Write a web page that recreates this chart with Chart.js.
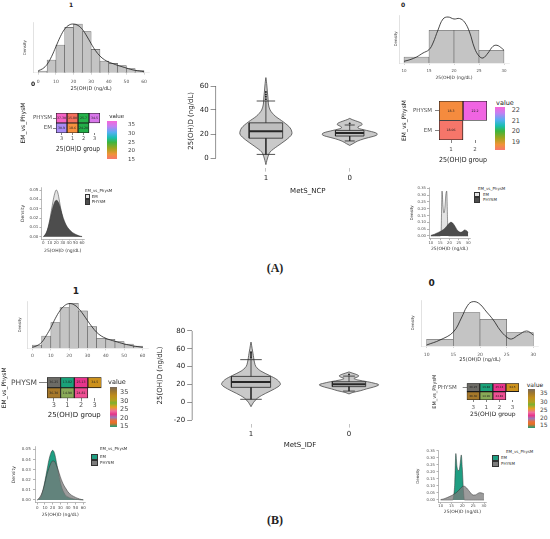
<!DOCTYPE html>
<html><head><meta charset="utf-8">
<script src="https://cdn.jsdelivr.net/npm/chart.js@4.4.0/dist/chart.umd.min.js"></script>
<style>
body{margin:0;background:#fff;}
#fig{position:relative;width:550px;height:539px;overflow:hidden;background:#fff;font-family:"DejaVu Sans",sans-serif;color:#222;}
.abs{position:absolute;white-space:nowrap;line-height:1;}
</style></head>
<body><div id="fig"></div>
<script>
// ================= DATA =================
const histCenters60 = [2.5,7.5,12.5,17.5,22.5,27.5,32.5,37.5,42.5,47.5,52.5,57.5];
const grid60 = [0,2.5,5,7.5,10,12.5,15,17.5,20,22.5,25,27.5,30,32.5,35,37.5,40,42.5,45,47.5,50,52.5,55,57.5,60];
const histCenters30 = [12.5,17.5,22.5,27.5];
const grid30 = [10,11,12,13,14,15,15.5,16,16.5,17,17.5,18,18.5,19,19.5,20,20.5,21,22,23,24,25,26,27,28,29,30];
const ticks60 = [0,10,20,30,40,50,60];
const ticks30 = [10,15,20,25,30];
const densTicks1 = [0,0.01,0.02,0.03,0.04,0.05];
const densTicks0 = [0,0.05,0.10,0.15,0.20,0.25,0.30,0.35];

// (A) MetS_NCP — group 1 histogram + kde (relative heights)
const histA1 = [5,38,83,136,146,123,70,35,28,21,12,6];
const kdeA1  = [6,12,25,48,78,108,131,143,146,142,130,110,87,66,50,39,32,27,22,18,14,10,7,5,3];
// (A) group 0 histogram + kde
const histA0 = [6,32.7,32.7,12.7];
const kdeXA0 = [10,11.2,12.5,13.8,15,15.8,16.8,17.8,18.8,20,21.1,22.1,23.1,24.1,25,25.8,26.8,27.8,28.6,29.5,30];
const kdeA0  = [1.7,3.3,6,10,13.3,20,33,44,46,44,44.5,41,31,15,7,5,10,16.7,17.7,15,12.7];
// (B) MetS_IDF — group 1
const histB1 = [10,37,77,122,135,112,65,30,27,20,13,7];
const kdeB1  = [3,8,18,38,62,90,113,128,134,131,120,103,83,64,48,37,30,25,21,17,13,10,7,5,3];
// (B) group 0
const histB0 = [6.7,33.3,26.7,13.3];
const kdeXB0 = [10,12.5,15,16.6,17.5,18.4,19.7,21.25,22.5,23.75,25,25.9,27.2,28.75,30];
const kdeB0  = [1,6,14,29,39,44,43,34,26,16,9,7,11,15,11];

// densities by EM_vs_PhysM
const densA1_EM = [0,0.001,0.004,0.010,0.018,0.028,0.038,0.046,0.050,0.047,0.038,0.028,0.019,0.012,0.008,0.005,0.003,0.002,0.0015,0.001,0.0007,0.0005,0.0003,0.0001,0];
const densA1_PH = [0,0.002,0.005,0.010,0.017,0.025,0.032,0.037,0.039,0.038,0.034,0.028,0.022,0.017,0.013,0.010,0.008,0.006,0.0045,0.0035,0.0025,0.0017,0.001,0.0005,0.0002];
const densA0_EM = [0,0,0,0,0,0,0.03,0.33,0.22,0.17,0.2,0.3,0.33,0.1,0,0,0,0,0,0,0,0,0,0,0,0,0];
const densA0_PH = [0.004,0.008,0.013,0.02,0.026,0.032,0.036,0.04,0.045,0.05,0.056,0.064,0.072,0.08,0.088,0.095,0.1,0.1,0.09,0.07,0.046,0.032,0.027,0.032,0.044,0.04,0.027];
const densB1_EM = [0,0.001,0.004,0.010,0.019,0.029,0.039,0.046,0.049,0.046,0.037,0.027,0.018,0.011,0.007,0.004,0.003,0.002,0.0015,0.001,0.0007,0.0005,0.0003,0.0001,0];
const densB1_PH = [0,0.002,0.005,0.010,0.017,0.025,0.031,0.036,0.0385,0.038,0.034,0.029,0.023,0.018,0.014,0.011,0.008,0.006,0.0045,0.0035,0.0025,0.0017,0.001,0.0005,0.0002];
const densB0_EM = [0,0,0,0,0,0,0,0.03,0.12,0.33,0.24,0.21,0.21,0.26,0.32,0.22,0.07,0,0,0,0,0,0,0,0,0,0];
const densB0_PH = [0.003,0.006,0.011,0.017,0.024,0.031,0.035,0.04,0.045,0.05,0.056,0.063,0.071,0.08,0.088,0.095,0.098,0.097,0.085,0.066,0.047,0.035,0.036,0.045,0.052,0.05,0.043];

// violins: value grid and half-width (x units) per group
const vioCats = ['1','0'];
const vioYA1 = [-5.5,-2,0,5,10,15,20,25,30,35,40,45,50,55,60,64,67];
const vioWA1 = [0,0.012,0.02,0.05,0.14,0.24,0.31,0.29,0.21,0.11,0.05,0.03,0.025,0.018,0.012,0.006,0];
const vioYA0 = [10.5,12,14,16,18,19,20,21,22,23,24,25,26,27,28,29,30,31,32,33];
const vioWA0 = [0,0.04,0.09,0.17,0.28,0.32,0.33,0.31,0.26,0.2,0.14,0.1,0.1,0.13,0.15,0.14,0.11,0.07,0.03,0];
const vioYB1 = [-5,-2,0,5,10,15,20,25,30,35,40,45,50,55,60,64,67.5];
const vioWB1 = [0,0.015,0.027,0.07,0.15,0.24,0.3,0.27,0.19,0.1,0.05,0.035,0.027,0.02,0.012,0.006,0];
const vioYB0 = [9.3,11,13,15,17,19,20,21,23,25,26.7,28,29.5,31,32.5,34];
const vioWB0 = [0,0.04,0.12,0.18,0.25,0.3,0.3,0.27,0.19,0.09,0.05,0.08,0.1,0.08,0.04,0];
const boxQ1A = [16.5,18.3], boxMedA = [22.3,20.8], boxQ3A = [29.3,23], boxLoA = [3,14.2], boxHiA = [47.5,27.5];
const outA = [[49,51,53,55],[28.8]];
const boxQ1B = [16.7,17.5], boxMedB = [22.6,20.2], boxQ3B = [29,23], boxLoB = [3.3,12.5], boxHiB = [47.8,29.3];
const outB = [[50,52,54,56],[31]];

// heatmaps
const hmRows = ['PHYSM','EM'];
const hmA1Groups = ['3','1','2','3'];
const hmA1Physm = ['37.30','15.80','25.7','34.5'];
const hmA1Em = ['30.9','18.6','24.20'];
const hmA1PhysmCol = ['#f564c6','#f4705c','#27b24b','#d876ea'];
const hmA1EmCol = ['#a98cf5','#f7913e','#22ae48'];
const hmA0Groups = ['1','2'];
const hmA0Physm = ['18.3','22.2'];
const hmA0Em = ['18.06'];
const hmA0PhysmCol = ['#f58b3e','#f064e2'];
const hmA0EmCol = ['#f6766a'];
const hmBGroups = ['3','1','2','3'];
const hmBPhysm = ['36.25','13.82','25.13','34.5'];
const hmBEm = ['36.30','14.90','24.81'];
const hmBPhysmCol = ['#6c6b66','#19a279','#e7358b','#cc911c'];
const hmBEmCol = ['#a6782a','#88a957','#ee4f93'];
const legA1Ticks = ['35','30','25','20','15'];
const legA0Ticks = ['22','21','20','19'];
const legBTicks = ['35','30','25','20','15'];

// ================= HELPERS =================
Chart.defaults.font.family = '"DejaVu Sans", sans-serif';
Chart.defaults.color = '#4d4d4d';
Chart.defaults.animation = false;
Chart.defaults.events = [];
Chart.defaults.plugins.legend.display = false;
Chart.defaults.plugins.tooltip.enabled = false;

const fig = document.getElementById('fig');
const tickList = vals => s => { s.ticks = vals.map(v => ({value: v})); };

function mk(r, cfg) {
  const L = Math.round(r.x0 - r.yW), Tp = Math.round(r.y0 - r.pt);
  const R = Math.round(r.x1 + r.pr), B = Math.round(r.y1 + r.xH);
  const yW = r.x0 - L, pt = r.y0 - Tp, pr = R - r.x1, xH = B - r.y1;
  const box = document.createElement('div');
  box.style.cssText = `position:absolute;left:${L}px;top:${Tp}px;width:${R-L}px;height:${B-Tp}px;`;
  const c = document.createElement('canvas');
  box.appendChild(c); fig.appendChild(box);
  cfg.options.responsive = true;
  cfg.options.maintainAspectRatio = false;
  cfg.options.layout = {padding: {left: 0, top: pt, right: pr, bottom: 0}};
  cfg.options.scales.x.afterFit = a => { a.height = xH; };
  cfg.options.scales.y.afterFit = a => { a.width = yW; };
  return new Chart(c, cfg);
}

function T(s, x, y, size, o = {}) {
  const d = document.createElement('div');
  d.className = 'abs'; d.textContent = s;
  d.style.fontSize = size + 'px'; d.style.left = x + 'px'; d.style.top = y + 'px';
  d.style.transform = o.anchor === 'l' ? 'translate(0,-50%)' : 'translate(-50%,-50%)';
  if (o.bold) d.style.fontWeight = 'bold';
  if (o.family) d.style.fontFamily = o.family;
  d.style.color = o.color || '#222';
  fig.appendChild(d);
}
function G(x, y, w, h, stops) {
  const d = document.createElement('div');
  d.style.cssText = `position:absolute;left:${x}px;top:${y}px;width:${w}px;height:${h}px;background:linear-gradient(to bottom, ${stops.join(',')});`;
  fig.appendChild(d);
}
function K(x, y, w, h, col) {
  const d = document.createElement('div');
  d.style.cssText = `position:absolute;left:${x}px;top:${y}px;width:${w}px;height:${h}px;background:${col};box-sizing:border-box;border:0.5px solid #333;`;
  fig.appendChild(d);
}

const rAxis = {
  id: 'rAxis',
  afterDraw(chart, args, opts) {
    if (!opts || !opts.on) return;
    const y = chart.scales.y, t = y.ticks, ctx = chart.ctx;
    ctx.save(); ctx.strokeStyle = '#666'; ctx.lineWidth = 0.7;
    ctx.beginPath();
    ctx.moveTo(y.right, y.getPixelForValue(t[0].value));
    ctx.lineTo(y.right, y.getPixelForValue(t[t.length - 1].value));
    ctx.stroke(); ctx.restore();
  }
};
const cellText = {
  id: 'cellText',
  afterDatasetsDraw(chart, args, opts) {
    const ctx = chart.ctx;
    ctx.save();
    ctx.font = `${opts.size}px "DejaVu Sans"`; ctx.fillStyle = '#222';
    ctx.textAlign = 'center'; ctx.textBaseline = 'middle';
    chart.data.datasets.forEach((ds, di) => {
      chart.getDatasetMeta(di).data.forEach((el, j) => {
        const t = ds.cellLabels[j];
        if (t == null) return;
        ctx.fillText(t, (el.x + el.base) / 2, el.y);
      });
    });
    ctx.restore();
  }
};

function hist(r, centers, vals, kx, ky, xr, xt, ymax, f) {
  return mk(r, {
    type: 'bar',
    data: {datasets: [
      {type: 'line', data: kx.map((x, i) => ({x, y: ky[i]})), borderColor: '#1e1e1e', borderWidth: 0.8, pointRadius: 0, tension: 0.4, fill: false, order: 1},
      {type: 'bar', data: centers.map((x, i) => ({x, y: vals[i]})), backgroundColor: '#c4c4c4', borderColor: '#5c5c5c', borderWidth: 0.6, barPercentage: 1, categoryPercentage: 1, order: 2}
    ]},
    options: {scales: {
      x: {type: 'linear', offset: false, min: xr[0], max: xr[1], afterBuildTicks: tickList(xt),
          ticks: {font: {size: f.tick}, padding: f.tp, maxRotation: 0, minRotation: 0, autoSkip: false, color: '#555'},
          grid: {drawOnChartArea: false, tickLength: 2, color: '#aaa', offset: false, lineWidth: 0.5},
          border: {display: true, color: '#ddd', width: 0.5},
          title: {display: !!f.xtitle, text: f.xtitle || '', font: {size: f.xts || 5}, padding: 0, color: '#333'}},
      y: {min: 0, max: ymax, ticks: {display: false}, grid: {display: false},
          border: {display: true, color: '#cfcfcf', width: 0.6},
          title: {display: true, text: 'Density', font: {size: 4}, padding: {top: f.ytp || 0, bottom: 0}, color: '#444'}}
    }}
  });
}

function dens(r, gx, em, ph, xr, xt, yr, yt, emFill, phFill, f) {
  const line = (vals, fillCol, order) => ({data: gx.map((x, i) => ({x, y: vals[i]})), fill: 'origin', backgroundColor: fillCol,
    borderColor: '#303030', borderWidth: 0.5, pointRadius: 0, cubicInterpolationMode: 'monotone', order});
  return mk(r, {
    type: 'line',
    data: {datasets: [line(ph, phFill, 1), line(em, emFill, 2)]},
    options: {scales: {
      x: {type: 'linear', min: xr[0], max: xr[1], afterBuildTicks: tickList(xt),
          ticks: {font: {size: f.tick}, padding: f.xtp, maxRotation: 0, minRotation: 0, autoSkip: false},
          grid: {drawOnChartArea: false, tickLength: f.xtl, color: '#666', lineWidth: 0.5},
          border: {display: true, color: '#777', width: 0.5},
          title: {display: true, text: '25(OH)D (ng/dL)', font: {size: 4.5}, padding: 0, color: '#333'}},
      y: {min: yr[0], max: yr[1], afterBuildTicks: tickList(yt),
          ticks: {font: {size: f.tick}, padding: f.ytp, autoSkip: false, callback: v => v.toFixed(2)},
          grid: {drawOnChartArea: false, tickLength: 2, color: '#666', lineWidth: 0.5},
          border: {display: true, color: '#777', width: 0.5},
          title: {display: true, text: 'Density', font: {size: f.yts}, padding: 0, color: '#333'}}
    }}
  });
}

function vioSets(pos, ys, ws, q1, med, q3, lo, hi, bw, cw, outs) {
  const shape = ys.map((y, i) => ({x: pos + ws[i], y}))
    .concat(ys.map((y, i) => ({x: pos - ws[i], y})).reverse());
  const L = (pts, w, extra) => Object.assign({data: pts, borderColor: '#262626', borderWidth: w, pointRadius: 0, fill: false, tension: 0, order: 1}, extra || {});
  return [
    L(shape, 0.8, {fill: 'shape', backgroundColor: '#c9c9c9', borderColor: '#4a4a4a', tension: 0.3, order: 4}),
    L([{x: pos - bw, y: q1}, {x: pos + bw, y: q1}, {x: pos + bw, y: q3}, {x: pos - bw, y: q3}, {x: pos - bw, y: q1}], 0.8,
      {fill: 'shape', backgroundColor: 'rgba(160,160,160,0.25)', order: 3}),
    L([{x: pos, y: q3}, {x: pos, y: hi}], 0.8),
    L([{x: pos, y: q1}, {x: pos, y: lo}], 0.8),
    L([{x: pos - cw, y: hi}, {x: pos + cw, y: hi}], 0.8),
    L([{x: pos - cw, y: lo}, {x: pos + cw, y: lo}], 0.8),
    L([{x: pos - bw, y: med}, {x: pos + bw, y: med}], 2),
    {data: outs.map(y => ({x: pos, y})), showLine: false, pointRadius: 1, pointBackgroundColor: '#222', pointBorderWidth: 0, order: 0}
  ];
}

function violin(r, vY, vW, q1, med, q3, lo, hi, outs, yr, yt, xtitle, xtp) {
  const ds = [];
  const bw = [0.2, 0.17], cw = [0.11, 0.06];
  vioCats.forEach((c, g) => ds.push(...vioSets(g + 1, vY[g], vW[g], q1[g], med[g], q3[g], lo[g], hi[g], bw[g], cw[g], outs[g])));
  return mk(r, {
    type: 'line',
    data: {datasets: ds},
    options: {scales: {
      x: {type: 'linear', min: 0.4, max: 2.6, afterBuildTicks: tickList([1, 2]),
          ticks: {callback: (v, i) => vioCats[i], font: {size: 7}, padding: xtp, color: '#222', maxRotation: 0, autoSkip: false},
          grid: {drawOnChartArea: false, tickLength: 4, color: '#999', lineWidth: 0.6}, border: {display: false},
          title: {display: true, text: xtitle, font: {size: 7}, padding: 0, color: '#222'}},
      y: {min: yr[0], max: yr[1], afterBuildTicks: tickList(yt),
          ticks: {font: {size: 7}, padding: 2, color: '#222', autoSkip: false},
          grid: {drawOnChartArea: false, tickLength: 5, color: '#666', lineWidth: 0.7}, border: {display: false},
          title: {display: true, text: '25(OH)D (ng/dL)', font: {size: 7}, padding: 0, color: '#222'}}
    }, plugins: {rAxis: {on: true}}},
    plugins: [rAxis]
  });
}

function heat(r, groups, pv, ev, pc, ec, f) {
  const n = groups.length;
  const datasets = groups.map((g, i) => ({
    data: [[i, i + 1], i < ev.length ? [i, i + 1] : null],
    backgroundColor: [pc[i], i < ec.length ? ec[i] : 'rgba(0,0,0,0)'],
    borderColor: '#1a1a1a', borderWidth: 0.9, borderSkipped: false,
    barPercentage: 1, categoryPercentage: 1, grouped: false,
    cellLabels: [pv[i], i < ev.length ? ev[i] : null]
  }));
  return mk(r, {
    type: 'bar',
    data: {labels: hmRows, datasets},
    options: {indexAxis: 'y', scales: {
      x: {type: 'linear', min: 0, max: n, afterBuildTicks: tickList(groups.map((g, i) => i + 0.5)),
          ticks: {callback: (v, i) => groups[i], font: {size: f.xt}, padding: f.xPad, color: '#4d4d4d', maxRotation: 0, autoSkip: false},
          grid: {drawOnChartArea: false, tickLength: f.xTL, color: '#333', lineWidth: 0.6}, border: {display: false},
          title: {display: true, text: '25(OH)D group', font: {size: f.xTitle}, padding: 0, color: '#222'}},
      y: {type: 'category', offset: true,
          ticks: {font: {size: f.yt}, padding: f.yPad, color: '#4d4d4d'},
          grid: {drawOnChartArea: false, tickLength: f.yTL, color: '#333', lineWidth: 0.6, offset: false}, border: {display: false},
          title: {display: true, text: 'EM_vs_PhysM', font: {size: f.yTitle}, padding: 0, color: '#222'}}
    }, plugins: {cellText: {size: f.cell}}},
    plugins: [cellText]
  });
}

// ================= PANEL A =================
hist({x0:33,y0:22.7,x1:149.3,y1:72.7,yW:11,xH:19.6,pt:4,pr:8}, histCenters60, histA1, grid60, kdeA1, [-3,63], ticks60, 150,
     {tick:4.5, tp:4, xtitle:'25(OH)D (ng/dL)', xts:5, ytp:0.6});
hist({x0:399,y0:15,x1:509,y1:63,yW:5,xH:18,pt:4,pr:6}, histCenters30, histA0, kdeXA0, kdeA0, [9,31], ticks30, 48,
     {tick:4, tp:3.5, xtitle:'25(OH)D (ng/dL)', xts:4.5, ytp:0});
heat({x0:56,y0:113,x1:100,y1:133,yW:36,xH:20,pt:10,pr:4}, hmA1Groups, hmA1Physm, hmA1Em, hmA1PhysmCol, hmA1EmCol,
     {yt:5.5, yPad:1, yTL:3, xt:5, xPad:0.5, xTL:2, xTitle:7, yTitle:6, cell:3.2});
heat({x0:439,y0:101,x1:487,y1:140,yW:38,xH:24.2,pt:10,pr:4}, hmA0Groups, hmA0Physm, hmA0Em, hmA0PhysmCol, hmA0EmCol,
     {yt:5.5, yPad:3, yTL:4, xt:5.5, xPad:3.5, xTL:3, xTitle:7, yTitle:6, cell:3.2});
dens({x0:41.4,y0:187.7,x1:84,y1:239,yW:21.4,xH:14.7,pt:6,pr:6}, grid60, densA1_EM, densA1_PH, [-3,63], ticks60, [-0.0025,0.0525], densTicks1,
     '#e3e3e3', '#4d4d4d', {tick:4, xtp:0.5, xtl:1.5, ytp:1, yts:4.5});
dens({x0:429,y0:187.7,x1:470,y1:238.2,yW:19.4,xH:14.2,pt:6,pr:4}, grid30, densA0_EM, densA0_PH, [9,31], ticks30, [-0.0165,0.355], densTicks0,
     '#e3e3e3', '#4d4d4d', {tick:3.8, xtp:1, xtl:2, ytp:1, yts:4});
violin({x0:215.6,y0:74,x1:400.4,y1:167.6,yW:28.6,xH:27.4,pt:8,pr:4}, [vioYA1, vioYA0], [vioWA1, vioWA0],
       boxQ1A, boxMedA, boxQ3A, boxLoA, boxHiA, outA, [-8,70], [0,20,40,60], 'MetS_NCP', 2);

// ================= PANEL B =================
hist({x0:27,y0:301.6,x1:148,y1:348.3,yW:9.4,xH:9.7,pt:4,pr:8}, histCenters60, histB1, grid60, kdeB1, [-3,63], ticks60, 140,
     {tick:4.5, tp:2.5, ytp:0});
hist({x0:421.3,y0:300,x1:538.7,y1:346,yW:10.4,xH:16.7,pt:4,pr:4}, histCenters30, histB0, kdeXB0, kdeB0, [9,31], ticks30, 46,
     {tick:4.5, tp:4, xtitle:'25(OH)D (ng/dL)', xts:5, ytp:0});
heat({x0:47,y0:377.3,x1:101.5,y1:398.3,yW:46,xH:20.9,pt:10,pr:4}, hmBGroups, hmBPhysm, hmBEm, hmBPhysmCol, hmBEmCol,
     {yt:7.5, yPad:2, yTL:8, xt:6.5, xPad:0.5, xTL:3, xTitle:7, yTitle:6, cell:3.2});
heat({x0:466.7,y0:383.3,x1:519,y1:400,yW:34.7,xH:17.6,pt:10,pr:4}, hmBGroups, hmBPhysm, hmBEm, hmBPhysmCol, hmBEmCol,
     {yt:5.5, yPad:6, yTL:4, xt:5.5, xPad:2, xTL:2, xTitle:6, yTitle:5, cell:2.8});
dens({x0:35,y0:446.8,x1:85.6,y1:502.5,yW:24.1,xH:15.2,pt:6,pr:6}, grid60, densB1_EM, densB1_PH, [-3,63], ticks60, [-0.0025,0.0525], densTicks1,
     '#1f9e82', 'rgba(122,122,122,0.75)', {tick:4, xtp:1.2, xtl:2, ytp:2.3, yts:4.5});
dens({x0:438.5,y0:450,x1:486.2,y1:502.3,yW:22.6,xH:13.1,pt:6,pr:4}, grid30, densB0_EM, densB0_PH, [9,31], ticks30, [-0.0165,0.355], densTicks0,
     '#1f9e82', 'rgba(122,122,122,0.75)', {tick:3.8, xtp:0.2, xtl:1.5, ytp:1.5, yts:4});
violin({x0:192.2,y0:327.4,x1:407.8,y1:423.6,yW:36.4,xH:25.6,pt:8,pr:4}, [vioYB1, vioYB0], [vioWB1, vioWB0],
       boxQ1B, boxMedB, boxQ3B, boxLoB, boxHiB, outB, [-24,84], [-20,0,20,40,60,80], 'MetS_IDF', 2.5);

// ================= TEXT, LEGENDS =================
T('1', 71, 5, 6, {bold: true});
T('0', 33, 84, 6, {bold: true});
T('0', 403, 5, 6, {bold: true});
T('1', 76, 290.7, 9, {bold: true});
T('0', 431.7, 283.3, 9, {bold: true});
T('(A)', 275, 268, 12, {bold: true, family: '"Liberation Serif", serif'});
T('(B)', 275, 520, 12, {bold: true, family: '"Liberation Serif", serif'});

const stopsHue = ['#f766d8 0%','#c47ff2 14%','#55aef2 30%','#19bfb0 44%','#3db53e 56%','#9fa51d 72%','#f09338 87%','#f8766d 100%'];
const stopsB = ['#77695c 0%','#9b7630 10%','#c08d1c 22%','#b3a11f 33%','#7cb032 40%','#e3a020 50%','#f06fa0 60%','#e6358a 68%','#9d78b8 76%','#e6703a 84%','#e96e24 90%','#1b9e77 100%'];

// A-left heat legend
T('value', 116.7, 116.7, 5.5);
G(107.3, 121, 10, 38, stopsHue);
[125, 133.5, 142.5, 151, 159.7].forEach((y, i) => T(legA1Ticks[i], 128, y, 5.5, {anchor: 'l', color: '#444'}));
// A-right heat legend
T('value', 505, 103.3, 6.5);
G(495, 107, 10, 43, stopsHue);
[110, 120.7, 131, 141.7].forEach((y, i) => T(legA0Ticks[i], 511.7, y, 6.5, {anchor: 'l', color: '#444'}));
// B-left heat legend
T('value', 117, 381.7, 6.5);
G(110, 386.7, 7, 40, stopsB);
[392, 400.7, 409, 417.7, 426].forEach((y, i) => T(legBTicks[i], 120, y, 6.5, {anchor: 'l', color: '#444'}));
// B-right heat legend
T('value', 535, 385, 6);
G(528.3, 388.5, 7, 39, stopsB);
[393.3, 401.7, 410, 417.7, 425].forEach((y, i) => T(legBTicks[i], 540, y, 6, {anchor: 'l', color: '#444'}));

// density legends
T('EM_vs_PhysM', 85, 191, 4, {anchor: 'l', color: '#333'});
K(85, 194, 5, 5.3, '#e3e3e3'); K(85, 199.3, 5, 5.3, '#4d4d4d');
T('EM', 91.7, 196.7, 4, {anchor: 'l', color: '#333'}); T('PHYSM', 91.7, 202, 4, {anchor: 'l', color: '#333'});

T('EM_vs_PhysM', 478, 189.3, 4, {anchor: 'l', color: '#333'});
K(474.3, 192, 5.7, 5, '#e3e3e3'); K(474.3, 197, 5.7, 5.5, '#4d4d4d');
T('EM', 483, 194.5, 4, {anchor: 'l', color: '#333'}); T('PHYSM', 483, 200, 4, {anchor: 'l', color: '#333'});

T('EM_vs_PhysM', 100, 449, 4, {anchor: 'l', color: '#333'});
K(90.7, 454, 7.6, 6, '#1f9e82'); K(90.7, 460, 7.6, 6, '#7d7d7d');
T('EM', 100, 457, 4, {anchor: 'l', color: '#333'}); T('PHYSM', 100, 463, 4, {anchor: 'l', color: '#333'});

T('EM_vs_PhysM', 506, 451.7, 4, {anchor: 'l', color: '#333'});
K(491.7, 455, 7.6, 5.7, '#1f9e82'); K(491.7, 460.7, 7.6, 6, '#7d7d7d');
T('EM', 501, 457.8, 4, {anchor: 'l', color: '#333'}); T('PHYSM', 501, 463.7, 4, {anchor: 'l', color: '#333'});
</script>
</body></html>
